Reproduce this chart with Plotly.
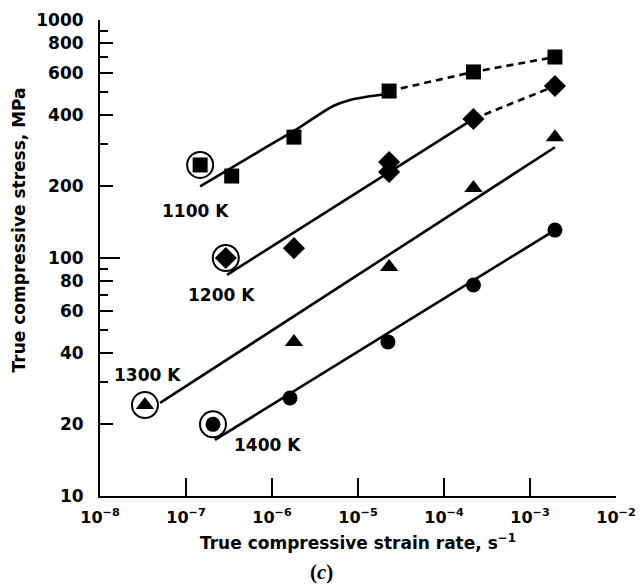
import plotly.graph_objects as go

# ---- data ----
rate_1100 = [1.46e-7, 3.4e-7, 1.8e-6, 2.3e-5, 2.2e-4, 1.95e-3]
stress_1100 = [246, 221, 322, 503, 605, 699]
rate_1200 = [2.9e-7, 1.8e-6, 2.3e-5, 2.3e-5, 2.2e-4, 1.95e-3]
stress_1200 = [100, 110, 253, 230, 384, 528]
rate_1300 = [3.33e-8, 1.8e-6, 2.3e-5, 2.2e-4, 1.95e-3]
stress_1300 = [24.1, 44.4, 91.6, 197, 322]
rate_1400 = [2.06e-7, 1.62e-6, 2.23e-5, 2.2e-4, 1.95e-3]
stress_1400 = [20, 25.8, 44.4, 77, 131]

# fitted curves (solid) and extrapolations (dashed)
fit_rate_1100 = [1.46e-7, 8e-7, 2.12e-6, 3.02e-6, 5.16e-6, 8.07e-6, 1.26e-5, 1.8e-5, 2.3e-5]
fit_stress_1100 = [200, 288, 355, 386, 435, 461, 476, 484, 492]
dash_rate_1100 = [2.3e-5, 2.2e-4, 1.95e-3]
dash_stress_1100 = [503, 605, 699]
fit_rate_1200 = [3.0e-7, 2.2e-4]
fit_stress_1200 = [85, 384]
dash_rate_1200 = [2.2e-4, 1.95e-3]
dash_stress_1200 = [384, 528]
fit_rate_1300 = [5.0e-8, 1.95e-3]
fit_stress_1300 = [24.6, 292]
fit_rate_1400 = [2.17e-7, 1.95e-3]
fit_stress_1400 = [17.2, 131]

temps = ["1100 K", "1200 K", "1300 K", "1400 K"]
circled_index = 0  # first point of each series is circled

x_tickvals = [1e-8, 1e-7, 1e-6, 1e-5, 1e-4, 1e-3, 1e-2]
x_ticktext = ["10<sup>\u22128</sup>", "10<sup>\u22127</sup>", "10<sup>\u22126</sup>",
              "10<sup>\u22125</sup>", "10<sup>\u22124</sup>", "10<sup>\u22123</sup>",
              "10<sup>\u22122</sup>"]
y_tickvals = [10, 20, 40, 60, 80, 100, 200, 400, 600, 800, 1000]
y_ticktext = [str(v) for v in y_tickvals]
y_minor = [30, 50, 70, 90, 300, 500, 700, 900]
y_decades = [100, 1000]

FONT = "DejaVu Sans"
FS = 17
TXT = dict(family=FONT, size=FS, color="black", weight="bold")
XTICK = dict(family=FONT, size=16, color="black", weight="bold")
LW = 2.6

fig = go.Figure()

def line(xs, ys, dash="solid", shape="linear"):
    fig.add_trace(go.Scatter(x=xs, y=ys, mode="lines",
                             line=dict(color="black", width=LW, dash=dash, shape=shape,
                                       smoothing=0.9),
                             hoverinfo="skip", showlegend=False))

line(fit_rate_1100, fit_stress_1100, shape="spline")
line(dash_rate_1100, dash_stress_1100, dash="7px,5px")
line(fit_rate_1200, fit_stress_1200)
line(dash_rate_1200, dash_stress_1200, dash="7px,5px")
line(fit_rate_1300, fit_stress_1300)
line(fit_rate_1400, fit_stress_1400)

series = [
    (rate_1100, stress_1100, "square", 15),
    (rate_1200, stress_1200, "diamond", 17),
    (rate_1300, stress_1300, "triangle-up", 16),
    (rate_1400, stress_1400, "circle", 15),
]

# rings around circled points
for xs, ys, sym, sz in series:
    fig.add_trace(go.Scatter(x=[xs[circled_index]], y=[ys[circled_index]], mode="markers",
                             marker=dict(symbol="circle", size=26, color="white",
                                         line=dict(color="black", width=2)),
                             hoverinfo="skip", showlegend=False))

for (xs, ys, sym, sz), name in zip(series, temps):
    fig.add_trace(go.Scatter(x=xs, y=ys, mode="markers", name=name,
                             marker=dict(symbol=sym, size=sz, color="black",
                                         line=dict(width=0)),
                             showlegend=False))

# dummy trace for the overlay axis carrying the long decade ticks
fig.add_trace(go.Scatter(x=[1e-8], y=[10], yaxis="y2", mode="markers",
                         marker=dict(opacity=0), hoverinfo="skip", showlegend=False))

label_pos = [(-6.895, 2.197), (-6.593, 1.845), (-7.453, 1.508), (-6.047, 1.214)]
for t, (lx, ly) in zip(temps, label_pos):
    fig.add_annotation(x=lx, y=ly, xref="x", yref="y", text=t, showarrow=False,
                       font=TXT)

fig.add_annotation(x=0.5, y=-0.096, xref="paper", yref="paper",
                   text="True compressive strain rate, s<sup>\u22121</sup>",
                   showarrow=False, xanchor="center", yanchor="middle",
                   font=TXT)
fig.add_annotation(x=-0.158, y=0.559, xref="paper", yref="paper",
                   text="True compressive stress, MPa", textangle=-90,
                   showarrow=False, xanchor="center", yanchor="middle",
                   font=TXT)
fig.add_annotation(x=0.43, y=-0.159, xref="paper", yref="paper",
                   text="(<i>c</i>)", showarrow=False,
                   xanchor="center", yanchor="middle",
                   font=dict(family="Liberation Serif", size=21, color="black"))

fig.update_layout(
    width=640, height=588,
    margin=dict(l=100, r=24, t=20, b=92),
    paper_bgcolor="white", plot_bgcolor="white",
    font=TXT,
    showlegend=False,
    xaxis=dict(type="log", range=[-8, -2], showgrid=False, zeroline=False,
               automargin=False,
               showline=True, linecolor="black", linewidth=2,
               ticks="inside", ticklen=18, tickwidth=2, tickcolor="black",
               tickvals=x_tickvals, ticktext=x_ticktext,
               ticklabelstandoff=6, tickfont=XTICK),
    yaxis=dict(type="log", range=[1, 3], showgrid=False, zeroline=False,
               automargin=False,
               showline=True, linecolor="black", linewidth=2,
               ticks="inside", ticklen=13, tickwidth=2, tickcolor="black",
               tickvals=y_tickvals, ticktext=y_ticktext,
               ticklabelstandoff=11, tickfont=TXT,
               minor=dict(tickvals=y_minor, ticks="inside", ticklen=8,
                          tickwidth=2, tickcolor="black", showgrid=False)),
    yaxis2=dict(type="log", range=[1, 3], overlaying="y", side="left",
                automargin=False,
                showgrid=False, zeroline=False, showline=False,
                ticks="inside", ticklen=20, tickwidth=2, tickcolor="black",
                tickvals=y_decades, showticklabels=False),
)

# remove the browser's default 8px body margin so the figure sits at (0, 0)
fig.write_html("out.html",
               config={"displayModeBar": False},
               post_script="document.body.style.margin='0px';"
                           "document.body.style.overflow='hidden';")
